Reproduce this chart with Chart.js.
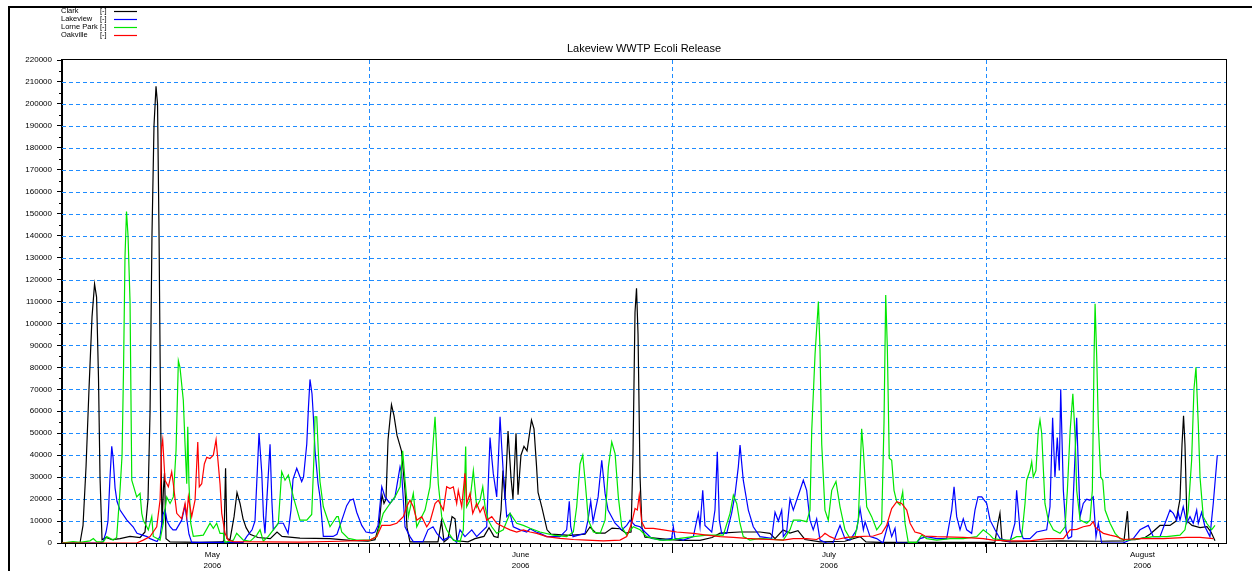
<!DOCTYPE html>
<html>
<head>
<meta charset="utf-8">
<title>Lakeview WWTP Ecoli Release</title>
<script src="https://cdn.jsdelivr.net/npm/chart.js@4.4.0/dist/chart.umd.min.js"></script>
<style>
  html, body { margin: 0; padding: 0; background: #fff; }
  canvas { display: block; }
</style>
</head>
<body>
<canvas id="ecoliChart" width="1252" height="571"></canvas>
<script>
// x values are days counted from 1 May 2006 00:00, y values are E. coli release
const chartTitle = "Lakeview WWTP Ecoli Release";
const yearLabel = "2006";
const monthNames = ["May", "June", "July", "August"];
const monthMid = [15.5, 46, 76.5, 107.5];
const monthStart = [31, 61, 92];
const dayFirst = 0.63;
const dayLast = 115.77;

const clarkDay = [
  0.63, 2.41, 2.71, 3.01, 3.30, 3.60, 3.85, 4.05, 4.24, 4.39,
  4.59, 4.99, 5.58, 6.37, 7.36, 8.35, 8.84, 9.14, 9.34, 9.53,
  9.73, 9.93, 10.08, 10.23, 10.38, 10.52, 10.67, 10.77, 10.92, 11.32,
  14.28, 16.46, 16.65, 16.81, 16.95, 17.25, 17.65, 17.94, 18.24, 18.54,
  18.84, 19.23, 20.02, 21.23, 21.90, 22.39, 24.17, 27.14, 29.12, 30.90,
  31.59, 31.99, 32.28, 32.48, 32.68, 32.88, 33.22, 33.47, 33.77, 34.21,
  34.56, 34.76, 35.05, 37.82, 38.17, 38.42, 38.81, 39.21, 39.51, 39.70,
  40.79, 41.48, 42.37, 42.87, 43.36, 43.76, 44.06, 44.25, 44.45, 44.75,
  45.04, 45.24, 45.54, 45.74, 46.03, 46.33, 46.63, 47.07, 47.32, 47.57,
  47.72, 48.11, 48.61, 49.00, 50.88, 52.37, 52.86, 53.45, 54.34, 55.04,
  55.83, 56.42, 56.92, 57.11, 57.31, 57.46, 57.61, 57.81, 58.00, 58.30,
  59.78, 61.76, 63.74, 64.93, 65.73, 67.69, 69.67, 70.66, 71.16, 71.95,
  72.64, 73.43, 74.12, 75.63, 78.07, 79.57, 80.16, 81.54, 88.47, 92.91,
  93.21, 93.41, 93.61, 94.40, 97.37, 99.35, 103.30, 105.68, 105.88, 106.02,
  106.17, 106.77, 107.76, 108.25, 109.24, 110.23, 110.83, 111.22, 111.42, 111.57,
  111.71, 111.91, 112.41, 113.20, 113.89, 114.29, 114.68
];
const clarkVal = [
  0, 0, 8000, 35000, 70000, 103000, 118000, 112000, 75000, 30000,
  1500, 2500, 1500, 2000, 3000, 2500, 5000, 20000, 60000, 140000,
  190000, 208000, 200000, 140000, 60000, 8000, 25000, 32000, 2000, 500,
  300, 500, 1000, 34000, 2000, 1500, 12000, 23000, 18000, 11000,
  7000, 4000, 2500, 2000, 5000, 3000, 2200, 2000, 1200, 800,
  1500, 8000, 22000, 18000, 20000, 47000, 63000, 58000, 49000, 42000,
  24000, 7000, 500, 500, 10000, 500, 2000, 12000, 11000, 1000,
  500, 2000, 3000, 7000, 3000, 2500, 15000, 33000, 20000, 51000,
  30000, 20000, 50000, 22000, 40000, 44000, 42000, 56000, 52000, 35000,
  23000, 16000, 6000, 4000, 3500, 4000, 7300, 4500, 4500, 6800,
  6500, 4500, 5000, 40000, 105000, 116000, 95000, 30000, 7000, 2700,
  2000, 1200, 1200, 2500, 4500, 5000, 5000, 4400, 2000, 5900,
  4500, 5600, 1600, 500, 800, 2900, 500, 300, 300, 300,
  9000, 13600, 1000, 500, 800, 1000, 800, 1000, 9000, 14500,
  1500, 1500, 2500, 4000, 8000, 8000, 10000, 20000, 45000, 58000,
  45000, 10000, 8000, 7000, 7500, 5000, 1000
];

const lakeviewDay = [
  0.63, 4.39, 4.69, 4.99, 5.18, 5.38, 5.55, 5.68, 5.88, 6.07,
  6.37, 7.03, 7.66, 8.05, 9.04, 9.34, 10.03, 10.33, 10.62, 10.82,
  11.02, 11.32, 11.61, 11.91, 12.47, 12.80, 13.00, 13.19, 13.46, 18.54,
  18.90, 19.43, 19.72, 19.92, 20.12, 20.39, 20.56, 20.71, 20.91, 21.21,
  21.38, 21.53, 22.03, 22.52, 22.99, 23.28, 23.48, 23.85, 24.34, 24.52,
  24.84, 25.01, 25.16, 25.36, 25.49, 25.66, 25.96, 26.15, 26.48, 27.44,
  27.83, 28.43, 28.79, 29.12, 29.45, 29.78, 30.28, 30.70, 31.30, 31.59,
  31.89, 32.26, 32.58, 33.08, 33.57, 34.07, 34.23, 34.56, 35.05, 35.38,
  36.34, 36.83, 37.33, 37.70, 38.32, 39.01, 39.67, 40.00, 40.49, 41.16,
  41.65, 42.64, 42.82, 42.97, 43.12, 43.29, 43.63, 43.81, 43.96, 44.11,
  44.28, 44.62, 44.95, 45.27, 45.94, 46.60, 46.93, 47.52, 47.92, 48.58,
  49.89, 50.55, 50.81, 50.95, 51.18, 52.37, 52.66, 52.93, 53.16, 53.66,
  54.02, 54.35, 54.64, 55.34, 56.00, 56.49, 56.82, 57.31, 57.81, 58.30,
  58.96, 60.11, 60.94, 61.10, 61.27, 62.09, 63.08, 63.57, 63.74, 64.01,
  64.23, 64.90, 65.22, 65.45, 65.65, 65.88, 66.38, 66.87, 67.20, 67.53,
  67.70, 68.02, 68.52, 69.01, 69.67, 70.83, 71.16, 71.49, 71.82, 71.98,
  72.31, 72.64, 72.97, 73.63, 73.96, 74.29, 74.62, 74.94, 75.28, 75.61,
  76.28, 76.89, 77.59, 78.08, 78.58, 79.24, 79.57, 79.90, 80.07, 80.56,
  81.22, 81.84, 82.37, 82.70, 83.03, 83.20, 85.17, 85.50, 86.16, 87.15,
  88.14, 88.64, 88.87, 89.13, 89.46, 89.78, 90.12, 90.61, 90.94, 91.24,
  91.61, 92.10, 92.43, 92.92, 93.41, 94.40, 94.89, 95.06, 95.39, 95.72,
  96.38, 97.04, 98.03, 98.36, 98.62, 98.85, 99.08, 99.28, 99.42, 99.68,
  99.94, 100.17, 100.50, 100.83, 101.00, 101.20, 101.34, 101.65, 101.99, 102.32,
  102.64, 102.91, 103.14, 103.47, 105.58, 106.60, 107.26, 108.08, 108.58, 109.24,
  109.74, 110.23, 110.56, 110.89, 111.05, 111.22, 111.54, 111.88, 112.21, 112.53,
  112.87, 113.03, 113.36, 113.69, 114.18, 114.51, 114.91
];
const lakeviewVal = [
  0, 0, 500, 5000, 10000, 30000, 44000, 39000, 25000, 19000,
  15000, 10500, 7400, 4400, 2900, 2000, 700, 3000, 13000, 15000,
  10000, 7400, 6000, 6000, 10400, 17000, 10000, 4000, 300, 300,
  2900, 6000, 10000, 30000, 50000, 32000, 12000, 4400, 21000, 45000,
  20000, 6000, 9000, 9000, 4400, 15000, 29000, 34000, 28000, 30000,
  45000, 62000, 74500, 68000, 58000, 42000, 27000, 21000, 3000, 3000,
  4000, 12000, 17000, 19500, 20000, 14000, 8000, 5000, 4500, 5000,
  8000, 25600, 21000, 18000, 21000, 34700, 31700, 7400, 2900, 600,
  600, 6000, 7400, 4400, 1300, 2900, 300, 6000, 2900, 6000,
  2900, 7400, 30000, 48000, 40000, 31700, 21000, 40000, 57500, 45000,
  32000, 12000, 13500, 7400, 6000, 5000, 6500, 5000, 4400, 2900,
  2900, 6000, 19000, 7400, 2900, 4400, 10400, 19000, 9700, 21000,
  37700, 22600, 15000, 9000, 6000, 8000, 10400, 8000, 7400, 5000,
  2100, 1300, 2100, 7400, 2100, 1300, 2900, 13500, 7400, 24000,
  8000, 5000, 15000, 41500, 10400, 4400, 4400, 13600, 22000, 34700,
  44600, 28600, 15000, 7400, 2900, 2100, 14000, 10000, 15000, 2900,
  5000, 20000, 15000, 24000, 28600, 24000, 10400, 6000, 11000, 1300,
  0, 0, 8000, 2000, 1300, 6000, 15700, 6000, 9700, 2900,
  2000, 0, 9000, 2900, 6700, 0, 0, 2000, 2900, 2000,
  2000, 15000, 25600, 12000, 6000, 11000, 6000, 4400, 15000, 21000,
  21000, 18000, 10400, 6000, 2000, 600, 9000, 24000, 6000, 2000,
  2000, 5000, 6000, 16500, 57000, 30000, 48000, 33000, 70000, 24000,
  6000, 2000, 2900, 39000, 57000, 30000, 12000, 18000, 20000, 19500,
  21000, 2900, 9000, 0, 0, 2000, 6000, 8000, 2900, 2900,
  9000, 15000, 13500, 10400, 14000, 10400, 16500, 9000, 12000, 9000,
  15000, 9000, 14000, 7400, 2900, 18000, 40000
];

const lorneParkDay = [
  0.63, 1.72, 2.41, 3.40, 3.73, 4.07, 4.72, 5.05, 5.71, 6.04,
  6.37, 6.57, 6.72, 6.86, 7.01, 7.16, 7.36, 7.53, 8.02, 8.35,
  8.52, 8.67, 9.17, 9.51, 9.66, 10.33, 10.65, 10.99, 11.32, 11.64,
  11.91, 12.14, 12.30, 12.63, 12.80, 12.97, 13.07, 13.19, 13.36, 13.62,
  14.61, 15.27, 15.60, 15.93, 16.26, 16.59, 16.76, 17.58, 17.91, 18.57,
  19.23, 19.89, 20.22, 20.54, 21.04, 21.53, 22.03, 22.36, 22.69, 23.02,
  23.51, 24.17, 24.84, 25.33, 25.56, 25.66, 25.83, 26.00, 26.15, 26.48,
  27.14, 27.80, 27.96, 28.30, 28.95, 29.78, 31.10, 31.76, 32.41, 33.08,
  33.57, 34.07, 34.33, 34.56, 34.89, 35.38, 35.72, 36.04, 36.54, 37.03,
  37.33, 37.53, 37.85, 38.19, 38.68, 39.34, 40.00, 40.33, 40.56, 40.66,
  40.99, 41.32, 41.65, 41.98, 42.25, 42.48, 42.80, 43.14, 43.63, 44.28,
  44.95, 45.61, 46.26, 46.93, 47.92, 49.23, 50.55, 51.21, 51.54, 51.87,
  52.14, 52.37, 52.70, 53.19, 53.86, 54.35, 54.68, 55.01, 55.34, 55.66,
  56.00, 56.49, 57.14, 57.81, 58.47, 59.78, 60.77, 61.76, 63.08, 64.40,
  66.04, 66.71, 67.04, 67.37, 67.69, 68.02, 68.68, 69.67, 71.98, 72.64,
  72.97, 73.63, 74.29, 74.62, 74.79, 75.12, 75.45, 75.61, 75.78, 76.10,
  76.43, 76.77, 77.19, 77.59, 78.08, 78.58, 79.07, 79.40, 79.73, 79.90,
  80.23, 80.72, 81.22, 81.71, 81.94, 82.11, 82.27, 82.46, 82.70, 82.93,
  83.20, 83.52, 83.79, 84.02, 84.34, 85.17, 85.67, 86.16, 87.15, 88.47,
  89.78, 91.11, 91.76, 92.43, 92.75, 93.74, 94.40, 95.06, 95.56, 95.89,
  96.05, 96.38, 96.55, 96.71, 96.97, 97.20, 97.37, 97.54, 97.86, 98.19,
  98.69, 99.35, 99.85, 100.08, 100.35, 100.62, 100.85, 101.00, 101.34, 102.00,
  102.32, 102.55, 102.72, 102.82, 102.98, 103.14, 103.38, 103.58, 103.81, 104.30,
  104.80, 105.29, 105.95, 107.26, 108.58, 109.90, 111.22, 111.71, 112.04, 112.37,
  112.60, 112.80, 113.03, 113.20, 113.52, 113.86, 114.35, 114.68
];
const lorneParkVal = [
  0, 600, 300, 1000, 2000, 500, 500, 2900, 1300, 2500,
  24000, 40000, 80000, 130000, 151000, 140000, 110000, 28600, 21000, 22600,
  13500, 10400, 6000, 12000, 3000, 1300, 9000, 21000, 18000, 21000,
  42000, 83000, 80000, 65000, 45000, 27000, 53000, 27000, 9000, 3000,
  3600, 9000, 6700, 9000, 4400, 4400, 300, 1300, 4400, 1300,
  700, 3600, 6000, 800, 3000, 6000, 9000, 32500, 28600, 31000,
  21000, 10400, 10400, 13000, 40000, 57500, 57500, 40000, 28000, 16500,
  7400, 12000, 12000, 5000, 2100, 1300, 1300, 2900, 13500, 18000,
  21000, 25600, 42000, 28600, 12000, 22600, 7400, 10400, 15000, 25600,
  45000, 57500, 27000, 12000, 6000, 1300, 600, 6000, 44000, 16500,
  19500, 33000, 16500, 19500, 25600, 16500, 10400, 7400, 4400, 6000,
  13500, 9000, 8000, 6700, 5000, 3600, 2900, 5000, 16500, 36000,
  40000, 28600, 10400, 5000, 4400, 10400, 34700, 46000, 40700, 21000,
  7400, 3600, 7400, 6000, 2900, 1300, 1300, 2100, 2900, 3600,
  3600, 13500, 21800, 18000, 9000, 2900, 1300, 2100, 1300, 6000,
  10400, 10400, 9700, 15000, 51000, 86000, 110000, 88000, 45000, 15000,
  10400, 24000, 28000, 16500, 6000, 2000, 2900, 10400, 52000, 42000,
  16500, 12000, 6000, 9000, 54600, 113000, 89000, 38600, 37700, 24000,
  18800, 17300, 23300, 9000, 300, 300, 3600, 2000, 1300, 2000,
  2000, 2900, 6000, 3600, 2000, 1300, 1300, 2900, 2900, 18000,
  28600, 33000, 37000, 30000, 33000, 51000, 56000, 50000, 18000, 10400,
  6000, 4400, 7400, 24000, 51000, 68000, 48000, 24000, 10400, 9000,
  10400, 24000, 85000, 109000, 85000, 54000, 30000, 28600, 15000, 9000,
  4400, 2000, 1300, 2000, 2900, 2900, 3600, 6000, 15000, 37700,
  70000, 80000, 54000, 30000, 12000, 9000, 6000, 8000
];

const oakvilleDay = [
  0.63, 8.02, 8.67, 9.34, 10.00, 10.33, 10.49, 10.59, 10.82, 11.15,
  11.48, 11.64, 11.98, 12.47, 12.80, 12.97, 13.13, 13.46, 13.79, 14.06,
  14.21, 14.45, 14.71, 14.95, 15.27, 15.60, 15.87, 16.03, 16.26, 16.43,
  16.76, 17.08, 17.58, 24.17, 28.13, 31.10, 31.76, 32.26, 33.08, 33.74,
  34.39, 34.73, 35.05, 35.38, 35.72, 36.21, 36.71, 37.03, 37.53, 37.85,
  38.35, 38.68, 39.01, 39.34, 39.67, 39.83, 40.17, 40.49, 40.66, 40.99,
  41.26, 41.65, 41.98, 42.30, 42.64, 43.14, 43.63, 44.28, 44.95, 45.61,
  46.26, 46.93, 47.59, 48.58, 49.89, 51.21, 52.53, 54.17, 55.83, 56.49,
  56.98, 57.31, 57.54, 57.73, 57.97, 58.30, 59.12, 60.11, 61.43, 63.08,
  64.40, 65.73, 67.03, 68.36, 69.67, 70.66, 71.98, 72.97, 74.29, 75.28,
  75.78, 76.10, 76.60, 77.26, 78.25, 79.24, 80.88, 81.71, 82.20, 82.70,
  83.20, 83.69, 84.19, 84.52, 85.00, 85.50, 85.99, 87.15, 89.78, 91.76,
  92.75, 94.40, 96.38, 98.03, 99.68, 100.35, 101.00, 101.65, 102.32, 102.64,
  102.81, 103.14, 103.64, 104.30, 104.96, 105.60, 107.26, 109.57, 111.88, 113.20,
  114.51
];
const oakvilleVal = [
  0, 0, 1300, 2900, 7400, 19500, 44000, 47000, 28600, 25600,
  32400, 27000, 13500, 11000, 18000, 12000, 21000, 12000, 19500, 46000,
  25600, 27000, 36000, 39000, 38500, 40000, 47000, 39000, 27000, 13500,
  4400, 1300, 600, 400, 800, 1300, 2900, 8000, 8000, 9000,
  12000, 16500, 19500, 16500, 10400, 12000, 7400, 9700, 18000, 19500,
  15000, 25600, 24800, 25600, 18000, 24000, 16500, 31700, 18000, 22600,
  13500, 18000, 14000, 16500, 10400, 12000, 9000, 7400, 6000, 5000,
  6000, 5000, 4400, 2900, 2100, 1600, 1300, 1000, 1300, 2900,
  9000, 15700, 15000, 21800, 9700, 6700, 6700, 6000, 5000, 4400,
  3600, 2900, 2600, 2100, 1800, 1600, 1300, 2000, 2000, 1600,
  2900, 4400, 2900, 1600, 2600, 2900, 3200, 4400, 8000, 15700,
  18800, 18000, 15000, 9000, 5000, 4400, 3200, 2900, 2600, 2000,
  1300, 1000, 1000, 2000, 2000, 6000, 6200, 7400, 8000, 9700,
  7400, 6000, 4400, 3600, 2900, 1600, 2000, 2000, 2600, 2600,
  2000
];

const GRID_BLUE = "#1e8cff";
const FONT = "'Liberation Sans', Arial, sans-serif";

function toPoints(days, vals) {
  return days.map((d, i) => ({ x: d, y: vals[i] }));
}

function strokeLine(ctx, x1, y1, x2, y2) {
  ctx.beginPath();
  ctx.moveTo(x1, y1);
  ctx.lineTo(x2, y2);
  ctx.stroke();
}

// dashed blue grid: every 10000 across, month boundaries down
const dashedGrid = {
  id: "dashedGrid",
  beforeDatasetsDraw(chart) {
    const { ctx, chartArea: a } = chart;
    const xs = chart.scales.x;
    const ys = chart.scales.y;
    ctx.save();
    ctx.strokeStyle = GRID_BLUE;
    ctx.lineWidth = 1;
    ctx.setLineDash([4, 3]);
    for (let v = 10000; v < 220000; v += 10000) {
      const py = Math.round(ys.getPixelForValue(v)) + 0.5;
      strokeLine(ctx, a.left, py, a.right, py);
    }
    monthStart.forEach((d) => {
      const px = Math.round(xs.getPixelForValue(d)) + 0.5;
      strokeLine(ctx, px, a.top, px, a.bottom);
    });
    ctx.restore();
  }
};

// page frame, plot box, minor ticks, month labels, title and legend
const decorations = {
  id: "decorations",
  beforeDraw(chart) {
    const ctx = chart.ctx;
    ctx.save();
    ctx.fillStyle = "#fff";
    ctx.fillRect(0, 0, chart.width, chart.height);
    ctx.strokeStyle = "#000";
    ctx.lineWidth = 2;
    ctx.beginPath();
    ctx.moveTo(9, chart.height);
    ctx.lineTo(9, 7);
    ctx.lineTo(chart.width, 7);
    ctx.stroke();
    ctx.restore();
  },
  afterDraw(chart) {
    const { ctx, chartArea: a } = chart;
    const xs = chart.scales.x;
    const ys = chart.scales.y;
    ctx.save();
    ctx.setLineDash([]);
    ctx.strokeStyle = "#000";
    ctx.lineWidth = 1;
    ctx.strokeRect(a.left - 0.5, a.top - 0.5, a.right - a.left + 1, a.bottom - a.top + 1);

    for (let v = 5000; v < 220000; v += 10000) {
      const py = Math.round(ys.getPixelForValue(v)) + 0.5;
      strokeLine(ctx, a.left - 3, py, a.left, py);
    }
    monthStart.forEach((d) => {
      const px = Math.round(xs.getPixelForValue(d)) + 0.5;
      strokeLine(ctx, px, a.bottom, px, a.bottom + 10);
    });

    ctx.fillStyle = "#000";
    ctx.textAlign = "center";
    ctx.textBaseline = "middle";
    ctx.font = "8px " + FONT;
    monthMid.forEach((d, i) => {
      const px = xs.getPixelForValue(d);
      ctx.fillText(monthNames[i], px, 555);
      ctx.fillText(yearLabel, px, 566);
    });

    ctx.font = "11px " + FONT;
    ctx.fillText(chartTitle, (a.left + a.right) / 2, 49);

    ctx.textAlign = "left";
    ctx.font = "7.5px " + FONT;
    chart.data.datasets.forEach((ds, i) => {
      const ly = 11 + i * 8.1;
      ctx.fillStyle = "#000";
      ctx.fillText(ds.label, 61, ly);
      ctx.fillText("[-]", 100, ly);
      ctx.strokeStyle = ds.borderColor;
      ctx.lineWidth = 1.2;
      strokeLine(ctx, 114, Math.round(ly) + 0.5, 137, Math.round(ly) + 0.5);
    });
    ctx.restore();
  }
};

const ecoliChart = new Chart(document.getElementById("ecoliChart"), {
  type: "line",
  data: {
    datasets: [
      {
        label: "Clark",
        data: toPoints(clarkDay, clarkVal),
        borderColor: "#000000",
        order: 3,
      },
      {
        label: "Lakeview",
        data: toPoints(lakeviewDay, lakeviewVal),
        borderColor: "#0000ff",
        order: 2,
      },
      {
        label: "Lorne Park",
        data: toPoints(lorneParkDay, lorneParkVal),
        borderColor: "#00e600",
        order: 1,
      },
      {
        label: "Oakville",
        data: toPoints(oakvilleDay, oakvilleVal),
        borderColor: "#ff0000",
        order: 0,
      },
    ],
  },
  options: {
    responsive: false,
    animation: false,
    events: [],
    layout: { padding: { top: 60, right: 26, bottom: 0, left: 0 } },
    elements: {
      point: { radius: 0 },
      line: { borderWidth: 1.2, tension: 0 },
    },
    plugins: {
      legend: { display: false },
      title: { display: false },
      tooltip: { enabled: false },
    },
    scales: {
      x: {
        type: "linear",
        min: dayFirst,
        max: dayLast,
        afterBuildTicks: (scale) => {
          const ticks = [];
          for (let d = 1; d <= 115; d++) ticks.push({ value: d });
          scale.ticks = ticks;
        },
        afterFit: (scale) => { scale.height = 28; },
        ticks: { autoSkip: false, maxRotation: 0, callback: () => "" },
        grid: {
          drawOnChartArea: false,
          tickLength: 4,
          tickColor: "#000",
        },
        border: { display: true, color: "#000" },
      },
      y: {
        min: 0,
        max: 220000,
        afterFit: (scale) => { scale.width = 62; },
        ticks: {
          stepSize: 10000,
          padding: 5,
          color: "#000",
          font: { family: FONT, size: 8 },
          callback: (v) => String(v),
        },
        grid: {
          drawOnChartArea: false,
          tickLength: 5,
          tickColor: "#000",
        },
        border: { display: true, color: "#000" },
      },
    },
  },
  plugins: [dashedGrid, decorations],
});
</script>
</body>
</html>
